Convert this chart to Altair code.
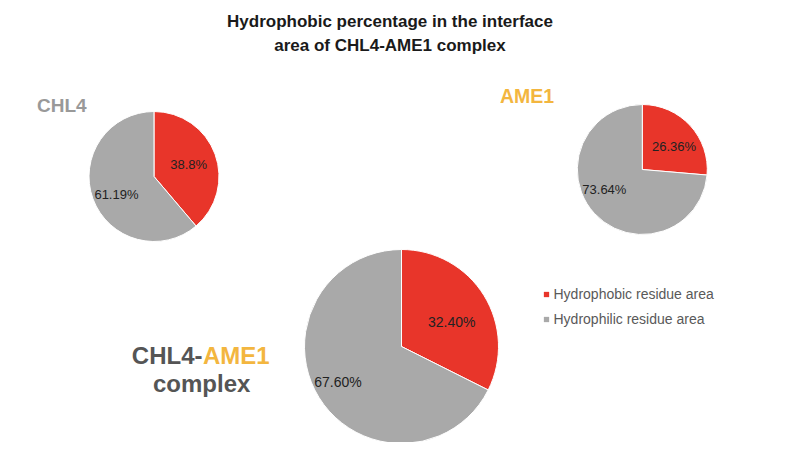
import altair as alt
import pandas as pd

# ---------------- data ----------------
PIES = ["CHL4", "AME1", "CHL4-AME1 complex"]
CATEGORIES = ["Hydrophobic residue area", "Hydrophilic residue area"]
HYDROPHOBIC = [38.8, 26.36, 32.40]
HYDROPHILIC = [61.19, 73.64, 67.60]
HYDROPHOBIC_LABELS = ["38.8%", "26.36%", "32.40%"]
HYDROPHILIC_LABELS = ["61.19%", "73.64%", "67.60%"]
COMPLEX_LABEL_PARTS = ["CHL4-", "AME1", "complex"]
TITLE = ["Hydrophobic percentage in the interface", "area of CHL4-AME1 complex"]

rows = []
for i, p in enumerate(PIES):
    rows.append({"pie": p, "category": CATEGORIES[0], "value": HYDROPHOBIC[i], "label": HYDROPHOBIC_LABELS[i]})
    rows.append({"pie": p, "category": CATEGORIES[1], "value": HYDROPHILIC[i], "label": HYDROPHILIC_LABELS[i]})
df = pd.DataFrame(rows)

# ---------------- style ----------------
RED = "#E8352A"
GRAY = "#A9A9A9"
GOLD = "#F3B63F"
DARK = "#555555"
FONT = "Liberation Sans"
W, H = 784, 384

# per pie: centre, radius, label radius per slice, label font size, label nudges per slice
GEOM = {
    PIES[0]: dict(cx=146, cy=118.5, r=65, lr=[37, 40], fs=13, nudge=[(0, 1), (0, 5)]),
    PIES[1]: dict(cx=634.3, cy=111.5, r=65, lr=[39, 42], fs=13, nudge=[(3, 4), (-7, -8)]),
    PIES[2]: dict(cx=393.5, cy=288.5, r=97, lr=[59, 70], fs=14, nudge=[(0, 7), (-4, 0)]),
}

color = alt.Color(
    "category:N",
    scale=alt.Scale(domain=CATEGORIES, range=[RED, GRAY]),
    legend=alt.Legend(
        title=None, orient="none", legendX=531.5, legendY=229.5,
        symbolType="square", symbolSize=28, symbolStrokeWidth=0,
        labelFont=FONT, labelFontSize=14, labelColor="#595959",
        labelOffset=0, labelLimit=300, rowPadding=11, padding=0,
    ),
)
order = alt.Order("category:N", sort="descending")
base = alt.Chart(df)

layers = []
for p in PIES:
    g = GEOM[p]
    arc = base.transform_filter(alt.datum.pie == p).mark_arc(
        outerRadius=g["r"], stroke="white", strokeWidth=1
    ).encode(
        theta=alt.Theta("value:Q", stack=True),
        color=color,
        order=order,
        x=alt.value(g["cx"]),
        y=alt.value(g["cy"]),
    )
    layers.append(arc)
    for ci, cat in enumerate(CATEGORIES):
        dx, dy = g["nudge"][ci]
        txt = base.transform_filter(alt.datum.pie == p).mark_text(
            radius=g["lr"][ci], font=FONT, fontSize=g["fs"], color="#222222",
            dx=dx, dy=dy,
        ).encode(
            theta=alt.Theta("value:Q", stack=True),
            detail="category:N",
            order=order,
            text=alt.condition(alt.datum.category == cat, alt.Text("label:N"), alt.value("")),
            x=alt.value(g["cx"]),
            y=alt.value(g["cy"]),
        )
        layers.append(txt)

# pie name labels
def name_text(s, x, y, col, size, align="left"):
    return alt.Chart(pd.DataFrame({"t": [s]})).mark_text(
        font=FONT, fontSize=size, fontWeight="bold", color=col,
        align=align, baseline="alphabetic"
    ).encode(text="t:N", x=alt.value(x), y=alt.value(y))

layers.append(name_text(PIES[0], 29, 54, "#999999", 19))
layers.append(name_text(PIES[1], 492, 44.7, GOLD, 19.5))
layers.append(name_text(COMPLEX_LABEL_PARTS[0], 194.5, 306, DARK, 24, "right"))
layers.append(name_text(COMPLEX_LABEL_PARTS[1], 195, 306, GOLD, 24, "left"))
layers.append(name_text(COMPLEX_LABEL_PARTS[2], 193.7, 333.7, DARK, 24, "center"))

chart = alt.layer(*layers).properties(
    width=W, height=H,
    autosize=alt.AutoSizeParams(type="none"),
    padding={"left": 0, "right": 0, "top": 50, "bottom": 0},
    title=alt.Title(
        TITLE, font=FONT, fontSize=17, fontWeight="bold", color="#1a1a1a",
        anchor="middle", dx=-10, offset=3, lineHeight=24,
    ),
).configure_view(strokeWidth=0)

chart.save("out.html", embed_options={"renderer": "svg", "actions": False})
